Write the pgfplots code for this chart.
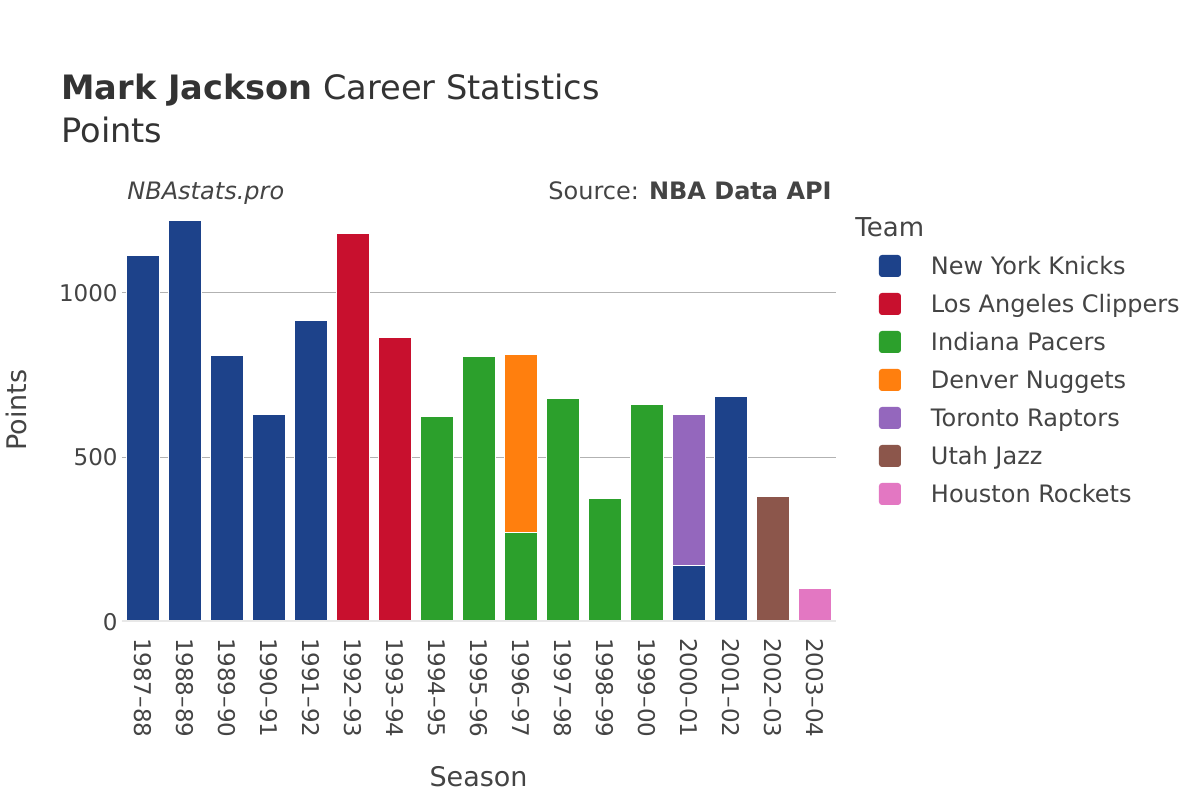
\documentclass[border=0pt]{standalone}
\usepackage{pgfplots}
\pgfplotsset{compat=1.18}
\usepackage{fontspec}
\setmainfont{DejaVu Sans}
\definecolor{txt}{HTML}{444444}
\definecolor{ttl}{HTML}{333333}
\definecolor{nyk}{HTML}{1D428A}
\definecolor{lac}{HTML}{C8102E}
\definecolor{ind}{HTML}{2CA02C}
\definecolor{den}{HTML}{FF7F0E}
\definecolor{tor}{HTML}{9467BD}
\definecolor{uta}{HTML}{8C564B}
\definecolor{hou}{HTML}{E377C2}
\begin{document}
\begin{tikzpicture}[x=1pt,y=1pt]
\path[use as bounding box, fill=white] (0,0) rectangle (600,400);
\begin{axis}[
  at={(61pt,89.15pt)}, anchor=south west,
  scale only axis, width=357pt, height=211.05pt,
  xmin=-0.5, xmax=16.5, ymin=0, ymax=1283,
  ybar stacked, bar width=0.8,
  axis line style={draw=none},
  major tick length=0pt,
  xtick={0,...,16},
  xticklabels={1987–88,1988–89,1989–90,1990–91,1991–92,1992–93,1993–94,1994–95,1995–96,1996–97,1997–98,1998–99,1999–00,2000–01,2001–02,2002–03,2003–04},
  ytick={0,500,1000}, yticklabels={0,500,1000},
  ymajorgrids, grid style={color=gray!60, line width=0.5pt},
  tick label style={font=\fontsize{11.5pt}{12pt}\selectfont, text=txt},
  xticklabel style={rotate=-90, anchor=west, inner sep=0pt},
  xticklabel shift=8pt,
  yticklabel style={anchor=east, inner sep=0pt},
  yticklabel shift=2pt,
  legend cell align=left,
  legend style={draw=none, fill=none, at={(axis description cs:1.0602,0.8688)}, anchor=north west,
    inner sep=0pt, outer sep=0pt, row sep=8pt, column sep=15pt,
    nodes={inner sep=0pt, text height=9.88pt, text depth=1.12pt, font=\fontsize{12pt}{14pt}\selectfont, text=txt}},
  legend image code/.code={\fill[#1, draw=none, rounded corners=1.5pt] (0pt,-5.5pt) rectangle (11pt,5.5pt);},
  every axis plot/.append style={draw=white, line width=0.5pt},
]
\draw[color=gray!18, line width=1.5pt] (axis cs:-0.5,0) -- (axis cs:16.5,0);
\addplot[fill=nyk] coordinates {(0,1114) (1,1219) (2,809) (3,630) (4,916) (5,0) (6,0) (7,0) (8,0) (9,0) (10,0) (11,0) (12,0) (13,170) (14,686) (15,0) (16,0)};
\addlegendentry{New York Knicks}
\addplot[fill=lac] coordinates {(0,0) (1,0) (2,0) (3,0) (4,0) (5,1181) (6,865) (7,0) (8,0) (9,0) (10,0) (11,0) (12,0) (13,0) (14,0) (15,0) (16,0)};
\addlegendentry{Los Angeles Clippers}
\addplot[fill=ind] coordinates {(0,0) (1,0) (2,0) (3,0) (4,0) (5,0) (6,0) (7,624) (8,806) (9,272) (10,678) (11,373) (12,661) (13,0) (14,0) (15,0) (16,0)};
\addlegendentry{Indiana Pacers}
\addplot[fill=den] coordinates {(0,0) (1,0) (2,0) (3,0) (4,0) (5,0) (6,0) (7,0) (8,0) (9,540) (10,0) (11,0) (12,0) (13,0) (14,0) (15,0) (16,0)};
\addlegendentry{Denver Nuggets}
\addplot[fill=tor] coordinates {(0,0) (1,0) (2,0) (3,0) (4,0) (5,0) (6,0) (7,0) (8,0) (9,0) (10,0) (11,0) (12,0) (13,460) (14,0) (15,0) (16,0)};
\addlegendentry{Toronto Raptors}
\addplot[fill=uta] coordinates {(0,0) (1,0) (2,0) (3,0) (4,0) (5,0) (6,0) (7,0) (8,0) (9,0) (10,0) (11,0) (12,0) (13,0) (14,0) (15,381) (16,0)};
\addlegendentry{Utah Jazz}
\addplot[fill=hou] coordinates {(0,0) (1,0) (2,0) (3,0) (4,0) (5,0) (6,0) (7,0) (8,0) (9,0) (10,0) (11,0) (12,0) (13,0) (14,0) (15,0) (16,102)};
\addlegendentry{Houston Rockets}
\end{axis}
\node[anchor=base west, inner sep=0pt, text=ttl, font=\fontsize{16.8pt}{20pt}\selectfont] at (30.5,350) {\textbf{Mark Jackson} Career Statistics};
\node[anchor=base west, inner sep=0pt, text=ttl, font=\fontsize{16.8pt}{20pt}\selectfont] at (30.5,328.5) {Points};
\node[anchor=base west, inner sep=0pt, text=txt, font=\fontsize{12pt}{14pt}\selectfont\itshape] at (63.5,300.5) {NBAstats.pro};
\node[anchor=base east, inner sep=0pt, text=txt, font=\fontsize{12pt}{14pt}\selectfont] at (416,300.5) {Source: \textbf{NBA Data API}};
\node[anchor=base west, inner sep=0pt, text=txt, font=\fontsize{13pt}{15pt}\selectfont] at (427.5,282) {Team};
\node[anchor=base, inner sep=0pt, text=txt, font=\fontsize{13.5pt}{16pt}\selectfont] at (239.25,6.65) {Season};
\node[anchor=base, rotate=90, inner sep=0pt, text=txt, font=\fontsize{13.5pt}{16pt}\selectfont] at (13,195) {Points};
\end{tikzpicture}
\end{document}
